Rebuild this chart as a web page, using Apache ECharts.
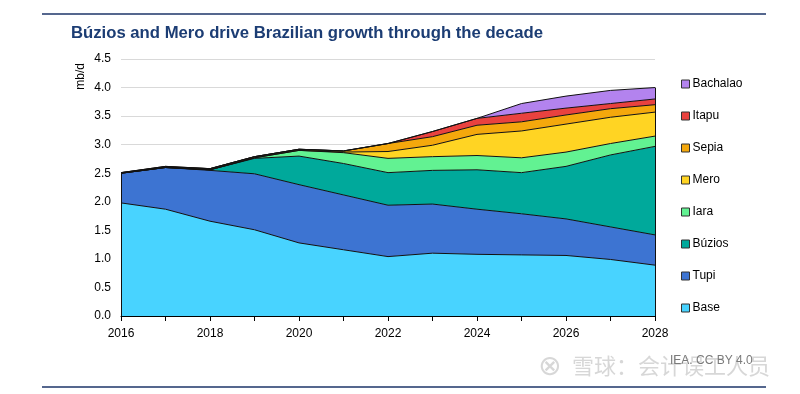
<!DOCTYPE html>
<html>
<head>
<meta charset="utf-8">
<script src="https://cdn.jsdelivr.net/npm/echarts@6/dist/echarts.min.js"></script>
<style>
html,body{margin:0;padding:0;background:#fff;}
#c{width:800px;height:394px;}
</style>
</head>
<body>
<div id="c"></div>
<script>
var years = ['2016','2017','2018','2019','2020','2021','2022','2023','2024','2025','2026','2027','2028'];
var yTicks = [0, 0.5, 1, 1.5, 2, 2.5, 3, 3.5, 4, 4.5];
var base     = [1.98,1.87,1.66,1.51,1.28,1.16,1.04,1.10,1.08,1.07,1.06,0.99,0.89];
var tupi     = [0.52,0.73,0.89,0.98,1.02,0.96,0.90,0.86,0.79,0.72,0.64,0.57,0.53];
var buzios   = [0,0,0.01,0.27,0.50,0.55,0.57,0.59,0.69,0.72,0.92,1.26,1.55];
var iara     = [0,0,0,0.01,0.10,0.19,0.25,0.24,0.25,0.26,0.25,0.20,0.18];
var mero     = [0,0,0,0,0,0.01,0.12,0.20,0.37,0.47,0.49,0.46,0.42];
var sepia    = [0.01,0.01,0.02,0.02,0.02,0.02,0.14,0.15,0.16,0.16,0.16,0.15,0.13];
var itapu    = [0,0.01,0,0,0,0,0,0.09,0.12,0.15,0.12,0.09,0.10];
var bachalao = [0,0,0,0,0,0,0,0,0,0.17,0.21,0.23,0.20];

var seriesDefs = [
  {name:'Base', data:base, color:'#48d3ff'},
  {name:'Tupi', data:tupi, color:'#3d74d2'},
  {name:'Búzios', data:buzios, color:'#00a99b'},
  {name:'Iara', data:iara, color:'#62f292'},
  {name:'Mero', data:mero, color:'#ffd423'},
  {name:'Sepia', data:sepia, color:'#f4a80c'},
  {name:'Itapu', data:itapu, color:'#e9423f'},
  {name:'Bachalao', data:bachalao, color:'#b383ee'}
];

function totalAt(i){
  var t = 0;
  seriesDefs.forEach(function(s){ t += s.data[i]; });
  return t;
}
var firstIdx = 0, lastIdx = years.length - 1;

var font = '"Liberation Sans", Arial, sans-serif';
var chart = echarts.init(document.getElementById('c'), null, {renderer:'canvas'});
var series = seriesDefs.map(function(s){
  return {
    name:s.name, type:'line', stack:'total', data:s.data,
    symbol:'none', smooth:false,
    color:s.color,
    lineStyle:{color:'#111', width:1},
    areaStyle:{color:s.color, opacity:1},
    itemStyle:{color:s.color}
  };
});
series[series.length-1].markLine = {
  silent:true, symbol:['none','none'], animation:false,
  label:{show:false},
  lineStyle:{color:'#111', width:1, type:'solid'},
  data:[
    [{coord:[years[firstIdx], 0]}, {coord:[years[firstIdx], totalAt(firstIdx)]}],
    [{coord:[years[lastIdx], 0]}, {coord:[years[lastIdx], totalAt(lastIdx)]}]
  ]
};

chart.setOption({
  animation:false,
  backgroundColor:'#fff',
  title:{
    text:'Búzios and Mero drive Brazilian growth through the decade',
    left:66, top:20,
    textStyle:{fontFamily:font, fontSize:16.7, fontWeight:'bold', color:'#1c3d74'}
  },
  graphic:[
    {type:'line', shape:{x1:42,y1:14,x2:766,y2:14}, style:{stroke:'#1c3468', lineWidth:1.5}},
    {type:'line', shape:{x1:42,y1:387,x2:766,y2:387}, style:{stroke:'#1c3468', lineWidth:1.5}},
    {type:'text', left:538, top:354, style:{text:'⊗', font:'28px "DejaVu Sans", sans-serif', fill:'rgba(175,175,175,0.5)'}},
    {type:'text', left:572, top:355, style:{text:'雪球：会计误工人员', font:'22px "Noto Sans CJK SC", sans-serif', fill:'rgba(175,175,175,0.5)'}},
    {type:'text', left:670, top:355, style:{text:'IEA. CC BY 4.0', font:'12px ' + font, fill:'#7a7a7a'}}
  ],
  legend:{
    orient:'vertical', left:676, top:73, itemGap:20,
    itemWidth:8, itemHeight:8, icon:'rect',
    data:['Bachalao','Itapu','Sepia','Mero','Iara','Búzios','Tupi','Base'],
    textStyle:{fontFamily:font, fontSize:12, color:'#000', padding:[0,0,0,-2]},
    itemStyle:{borderColor:'#333', borderWidth:1}
  },
  grid:{left:121, right:145, top:59, bottom:78},
  xAxis:{
    type:'category', data:years, boundaryGap:false,
    axisLine:{lineStyle:{color:'#000', width:1}},
    axisTick:{interval:0, length:5, lineStyle:{color:'#000'}},
    axisLabel:{interval:1, fontFamily:font, fontSize:12, color:'#000', margin:12},
    splitLine:{show:false}
  },
  yAxis:{
    type:'value', min:yTicks[0], max:yTicks[yTicks.length-1], interval:0.5,
    name:'mb/d', nameLocation:'end', nameRotate:90, nameGap:0,
    nameTextStyle:{fontFamily:font, fontSize:12, color:'#000', align:'right', verticalAlign:'bottom', padding:[0,4,34,0]},
    axisLine:{show:false},
    axisTick:{show:false},
    axisLabel:{fontFamily:font, fontSize:12, color:'#000', margin:10, formatter:function(v){return v.toFixed(1);}},
    splitLine:{lineStyle:{color:'#d9d9d9', width:1}}
  },
  series: series
});
</script>
</body>
</html>
